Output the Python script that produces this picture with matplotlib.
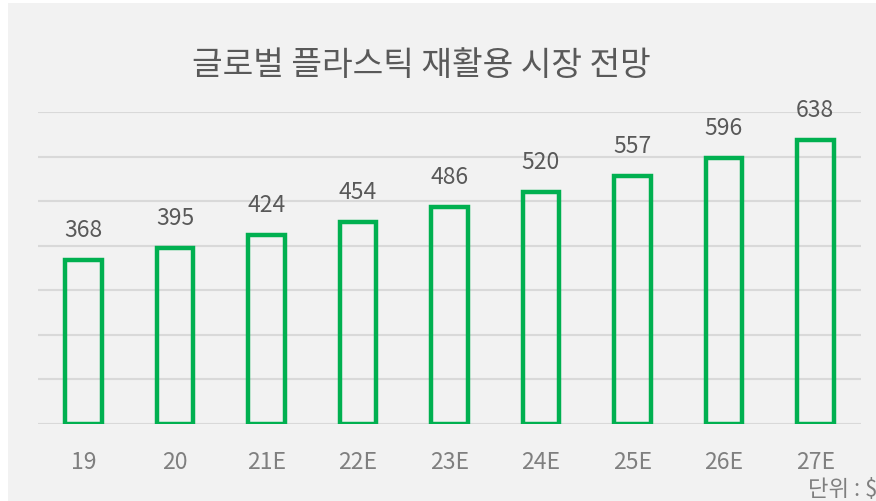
import matplotlib.pyplot as plt
from matplotlib.patches import Rectangle

plt.rcParams['font.family'] = ['Noto Sans CJK KR', 'DejaVu Sans']

years = ['19', '20', '21E', '22E', '23E', '24E', '25E', '26E', '27E']
market = [368, 395, 424, 454, 486, 520, 557, 596, 638]

title = '글로벌 플라스틱 재활용 시장 전망'
unit_note = '단위 : $'

W, H = 876, 502
fig = plt.figure(figsize=(W / 100, H / 100), dpi=100, facecolor='white')
# gray panel behind everything (small white margin at left/top)
fig.add_artist(Rectangle((8 / W, 0), 1 - 8 / W, (H - 4) / H,
                         transform=fig.transFigure, facecolor='#f2f2f2',
                         edgecolor='none', zorder=-10))

ax = fig.add_axes([38 / W, 77 / H, (861 - 38) / W, (425 - 113) / H])
ax.set_facecolor('none')
ax.set_zorder(1)

x = range(len(years))
bars = ax.bar(x, market, width=0.40, facecolor='none', edgecolor='#00b050',
              linewidth=3.2, zorder=3)

for i, v in enumerate(market):
    ax.annotate(str(v), (i, v), xytext=(0, 22), textcoords='offset points',
                ha='center', va='center', fontsize=16.5, color='#595959')

ax.set_xlim(-0.5, len(years) - 0.5)
ax.set_ylim(0, 700)
ax.set_yticks(range(0, 701, 100))
ax.yaxis.grid(True, color='#d9d9d9', linewidth=1.5, zorder=0)
ax.set_axisbelow(True)
ax.tick_params(axis='y', left=False, labelleft=False)
ax.tick_params(axis='x', length=0, pad=19, labelsize=16.5, labelcolor='#7f7f7f')
ax.set_xticks(list(x))
ax.set_xticklabels(years)
for s in ax.spines.values():
    s.set_visible(False)

fig.text(421 / W, 1 - 65 / H, title, ha='center', va='center',
         fontsize=24, color='#595959', zorder=2)
fig.text(808 / W, 1 - 490 / H, unit_note, ha='left', va='center',
         fontsize=16, color='#7f7f7f', zorder=2)

fig.savefig('out.png', dpi=100, facecolor=fig.get_facecolor())
